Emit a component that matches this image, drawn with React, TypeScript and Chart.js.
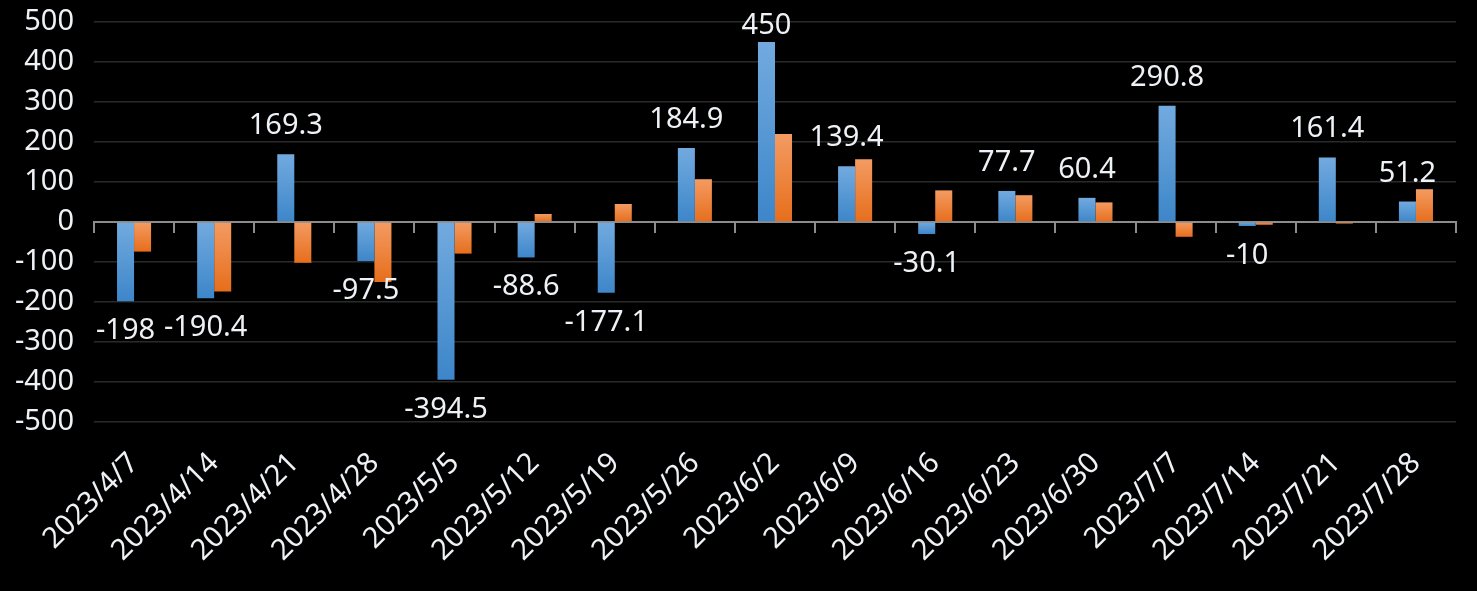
import React, { useEffect, useRef } from "react";
import { Chart, registerables } from "chart.js";

Chart.register(...registerables);

const categories = [
  "2023/4/7", "2023/4/14", "2023/4/21", "2023/4/28", "2023/5/5", "2023/5/12",
  "2023/5/19", "2023/5/26", "2023/6/2", "2023/6/9", "2023/6/16", "2023/6/23",
  "2023/6/30", "2023/7/7", "2023/7/14", "2023/7/21", "2023/7/28",
];
const seriesBlue = [
  -198, -190.4, 169.3, -97.5, -394.5, -88.6, -177.1, 184.9, 450, 139.4,
  -30.1, 77.7, 60.4, 290.8, -10, 161.4, 51.2,
];
const seriesOrange = [
  -74, -174, -102, -150, -79, 20, 45, 107, 220, 157, 79, 67, 49, -37, -7, -4, 82,
];
const yMin = -500;
const yMax = 500;
const yStep = 100;

const FONT = "'Noto Sans', 'Open Sans', sans-serif";
const TEXT = "#eef2f6";

function gradientFill(light: string, dark: string) {
  return (ctx: any) => {
    const chart = ctx.chart;
    const ys = chart.scales && chart.scales.y;
    const raw = ctx.raw;
    if (!ys || typeof raw !== "number" || !isFinite(ys.getPixelForValue(0))) return dark;
    const top = ys.getPixelForValue(Math.max(raw, 0));
    const bot = ys.getPixelForValue(Math.min(raw, 0));
    if (Math.abs(bot - top) < 1) return dark;
    const g = chart.ctx.createLinearGradient(0, top, 0, bot);
    g.addColorStop(0, light);
    g.addColorStop(1, dark);
    return g;
  };
}

const valueLabels = {
  id: "valueLabels",
  afterDatasetsDraw(chart: any) {
    const meta = chart.getDatasetMeta(0);
    const data = chart.data.datasets[0].data as number[];
    const { ctx, chartArea } = chart;
    ctx.save();
    ctx.font = `29px ${FONT}`;
    ctx.fillStyle = TEXT;
    ctx.textAlign = "center";
    ctx.textBaseline = "alphabetic";
    meta.data.forEach((el: any, i: number) => {
      const v = data[i];
      let y: number;
      if (v >= 0) {
        y = Math.max(el.y - 20, chartArea.top + 12);
      } else {
        y = el.y + 38;
      }
      ctx.fillText(String(v), el.x, y);
    });
    ctx.restore();
  },
};

export default function App() {
  const ref = useRef<HTMLCanvasElement | null>(null);

  useEffect(() => {
    if (!ref.current) return;
    Chart.defaults.font.family = FONT;
    const chart = new Chart(ref.current, {
      type: "bar",
      data: {
        labels: categories,
        datasets: [
          {
            label: "A",
            data: seriesBlue,
            backgroundColor: gradientFill("#72aadf", "#3d86c9"),
            borderWidth: 0,
            barPercentage: 1,
            categoryPercentage: 0.425,
            xAxisID: "x",
          },
          {
            label: "B",
            data: seriesOrange,
            backgroundColor: gradientFill("#f49b62", "#e66e1c"),
            borderWidth: 0,
            barPercentage: 1,
            categoryPercentage: 0.425,
            xAxisID: "x",
          },
        ],
      },
      options: {
        animation: false,
        responsive: true,
        maintainAspectRatio: false,
        layout: { padding: { top: 22, right: 21, bottom: 0, left: 0 } },
        plugins: {
          legend: { display: false },
          tooltip: { enabled: false },
          title: { display: false },
        },
        scales: {
          x: {
            type: "category",
            position: "bottom",
            grid: { display: false, drawTicks: false },
            border: { display: false },
            ticks: {
              autoSkip: false,
              minRotation: 45,
              maxRotation: 45,
              color: TEXT,
              padding: 24,
              font: { size: 29, family: FONT },
            },
            afterFit: (s: any) => {
              s.height = 169;
            },
          },
          x2: {
            type: "category",
            axis: "x",
            position: { y: 0 } as any,
            grid: {
              display: true,
              drawOnChartArea: false,
              drawTicks: true,
              tickLength: 10,
              color: "#8c8c8c",
              lineWidth: 2,
              offset: true,
            },
            border: { display: true, color: "#8c8c8c", width: 2 },
            ticks: { display: false },
          },
          y: {
            min: yMin,
            max: yMax,
            ticks: {
              stepSize: yStep,
              color: TEXT,
              padding: 0,
              font: { size: 29, family: FONT },
            },
            grid: {
              color: "#2a2a2a",
              lineWidth: 1.5,
              drawTicks: true,
              tickLength: 20,
              tickColor: "rgba(0,0,0,0)",
            },
            border: { display: false },
            afterFit: (s: any) => {
              s.width = 94;
            },
          },
        },
      } as any,
      plugins: [valueLabels],
    });
    return () => chart.destroy();
  }, []);

  return (
    <div
      style={{
        position: "absolute",
        left: 0,
        top: 0,
        width: 1477,
        height: 591,
        background: "#000",
      }}
    >
      <canvas ref={ref} />
    </div>
  );
}
